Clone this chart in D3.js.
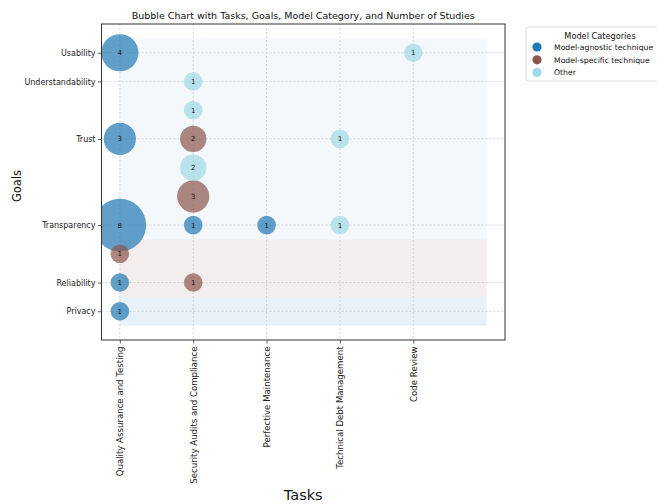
<!DOCTYPE html>
<html>
<head>
<meta charset="utf-8">
<script src="https://cdn.jsdelivr.net/npm/d3@7"></script>
<style>
  html, body { margin: 0; padding: 0; background: #fff; }
  svg { display: block; font-family: "DejaVu Sans", sans-serif; }
</style>
</head>
<body>
<svg id="chart" width="657" height="504"></svg>
<script>
// Tasks along the x axis
const tasks = [
  "Quality Assurance and Testing",
  "Security Audits and Compliance",
  "Perfective Maintenance",
  "Technical Debt Management",
  "Code Review"
];

// Goal labels and the row each one sits on
const goalLabels = ["Privacy", "Reliability", "Transparency", "Trust", "Understandability", "Usability"];
const goalRows = [0, 1, 3, 6, 8, 9];

// Model categories and their colours
const categories = ["Model-agnostic technique", "Model-specific technique", "Other"];
const categoryColors = ["#1f77b4", "#8c564b", "#9edae5"];

// One entry per bubble: task index, row, category index, number of studies
const bubbleTask     = [0, 0, 0, 0, 0, 1, 2, 0, 1, 1, 1, 1, 1, 1, 3, 3, 4];
const bubbleRow      = [9, 6, 3, 1, 0, 3, 3, 2, 6, 4, 1, 8, 7, 5, 6, 3, 9];
const bubbleCategory = [0, 0, 0, 0, 0, 0, 0, 1, 1, 1, 1, 2, 2, 2, 2, 2, 2];
const bubbleStudies  = [4, 3, 8, 1, 1, 1, 1, 1, 2, 3, 1, 1, 1, 2, 1, 1, 1];

// Shaded background bands (row ranges) tinted by category
const bandLow      = [2.5, 0.5, -0.5];
const bandHigh     = [9.5, 2.5, 0.5];
const bandCategory = [0, 1, 0];
const bandOpacity  = [0.05, 0.1, 0.1];

const bubbles = bubbleTask.map((t, i) => ({
  task: t, row: bubbleRow[i], cat: bubbleCategory[i], n: bubbleStudies[i]
}));

const svg = d3.select("#chart");
const plot = { left: 101.5, right: 505, top: 24, bottom: 340 };

const x = d3.scaleLinear().domain([-0.25, tasks.length + 0.25]).range([plot.left, plot.right]);
const y = d3.scaleLinear().domain([-1, 10]).range([plot.bottom, plot.top]);
const r = d3.scaleSqrt().domain([0, 8]).range([0, 26.3]);

svg.append("defs").append("clipPath").attr("id", "plot-clip")
  .append("rect")
  .attr("x", plot.left).attr("y", plot.top)
  .attr("width", plot.right - plot.left).attr("height", plot.bottom - plot.top);

// Background bands
svg.append("g").selectAll("rect")
  .data(bandLow.map((lo, i) => ({ lo, hi: bandHigh[i], cat: bandCategory[i], op: bandOpacity[i] })))
  .join("rect")
  .attr("x", x(0))
  .attr("width", x(tasks.length) - x(0))
  .attr("y", d => y(d.hi))
  .attr("height", d => y(d.lo) - y(d.hi))
  .attr("fill", d => categoryColors[d.cat])
  .attr("fill-opacity", d => d.op);

// Grid lines
const grid = svg.append("g")
  .attr("stroke", "#c4c4c4")
  .attr("stroke-width", 0.7)
  .attr("stroke-dasharray", "2,2");
grid.selectAll("line.h").data(goalRows).join("line")
  .attr("class", "h")
  .attr("x1", plot.left).attr("x2", plot.right)
  .attr("y1", d => y(d)).attr("y2", d => y(d));
grid.selectAll("line.v").data(d3.range(tasks.length)).join("line")
  .attr("class", "v")
  .attr("y1", plot.top).attr("y2", plot.bottom)
  .attr("x1", d => x(d)).attr("x2", d => x(d));

// Bubbles
const bubbleG = svg.append("g").attr("clip-path", "url(#plot-clip)");
bubbleG.selectAll("circle").data(bubbles).join("circle")
  .attr("cx", d => x(d.task))
  .attr("cy", d => y(d.row))
  .attr("r", d => r(d.n))
  .attr("fill", d => categoryColors[d.cat])
  .attr("fill-opacity", 0.7);

bubbleG.selectAll("text").data(bubbles).join("text")
  .attr("x", d => x(d.task))
  .attr("y", d => y(d.row))
  .attr("dy", "0.35em")
  .attr("text-anchor", "middle")
  .attr("font-size", 7)
  .attr("fill", "#111")
  .text(d => d.n);

// Axes
const xAxis = d3.axisBottom(x)
  .tickValues(d3.range(tasks.length))
  .tickFormat(i => tasks[i])
  .tickSize(3.5).tickPadding(3);
const gx = svg.append("g")
  .attr("transform", `translate(0,${plot.bottom})`)
  .call(xAxis);
gx.select(".domain").remove();
gx.selectAll(".tick line").attr("stroke", "#333").attr("stroke-width", 0.8);
gx.selectAll(".tick text")
  .attr("font-family", "DejaVu Sans, sans-serif")
  .attr("font-size", 8.6)
  .attr("fill", "#222")
  .attr("transform", "rotate(-90)")
  .attr("text-anchor", "end")
  .attr("x", -6.5)
  .attr("y", 0)
  .attr("dy", "0.35em");

const yAxis = d3.axisLeft(y)
  .tickValues(goalRows)
  .tickFormat((d, i) => goalLabels[i])
  .tickSize(3.5).tickPadding(2.5);
const gy = svg.append("g")
  .attr("transform", `translate(${plot.left},0)`)
  .call(yAxis);
gy.select(".domain").remove();
gy.selectAll(".tick line").attr("stroke", "#333").attr("stroke-width", 0.8);
gy.selectAll(".tick text")
  .attr("font-family", "DejaVu Sans, sans-serif")
  .attr("font-size", 8)
  .attr("fill", "#222");

// Plot frame
svg.append("rect")
  .attr("x", plot.left).attr("y", plot.top)
  .attr("width", plot.right - plot.left).attr("height", plot.bottom - plot.top)
  .attr("fill", "none")
  .attr("stroke", "#333")
  .attr("stroke-width", 1);

// Title and axis labels
svg.append("text")
  .attr("x", (plot.left + plot.right) / 2).attr("y", 19)
  .attr("text-anchor", "middle")
  .attr("font-size", 9.5)
  .attr("fill", "#111")
  .text("Bubble Chart with Tasks, Goals, Model Category, and Number of Studies");

svg.append("text")
  .attr("x", (plot.left + plot.right) / 2).attr("y", 500)
  .attr("text-anchor", "middle")
  .attr("font-size", 14.5)
  .attr("fill", "#111")
  .text("Tasks");

svg.append("text")
  .attr("transform", `translate(21,${(plot.top + plot.bottom) / 2 + 4}) rotate(-90)`)
  .attr("text-anchor", "middle")
  .attr("font-size", 11.5)
  .attr("fill", "#111")
  .text("Goals");

// Legend
const legend = svg.append("g");
legend.append("rect")
  .attr("x", 526).attr("y", 27)
  .attr("width", 148).attr("height", 54)
  .attr("rx", 2.5)
  .attr("fill", "#fff")
  .attr("fill-opacity", 0.85)
  .attr("stroke", "#d0d0d0")
  .attr("stroke-width", 0.8);
legend.append("text")
  .attr("x", 600).attr("y", 36).attr("dy", "0.35em")
  .attr("text-anchor", "middle")
  .attr("font-size", 8.2)
  .attr("fill", "#111")
  .text("Model Categories");
const items = legend.selectAll("g.item").data(categories).join("g")
  .attr("class", "item")
  .attr("transform", (d, i) => `translate(0,${47 + i * 12.8})`);
items.append("circle")
  .attr("cx", 537).attr("cy", 0).attr("r", 4.6)
  .attr("fill", (d, i) => categoryColors[i]);
items.append("text")
  .attr("x", 554).attr("y", 0).attr("dy", "0.35em")
  .attr("font-size", 7.7)
  .attr("fill", "#111")
  .text(d => d);
</script>
</body>
</html>
